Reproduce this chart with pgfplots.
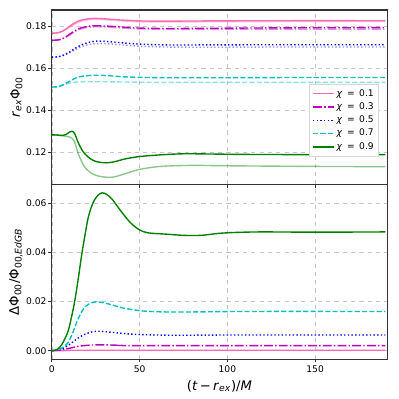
\documentclass[border=0pt]{standalone}
\usepackage{pgfplots}
\pgfplotsset{compat=1.18}
\usepackage{fontspec}
\setmainfont{DejaVu Sans}

\definecolor{cpink}{HTML}{FF69B4}
\definecolor{cmag}{HTML}{BF00BF}
\definecolor{cblue}{HTML}{0000FF}
\definecolor{ccyan}{HTML}{00BFBF}
\definecolor{cgreen}{HTML}{008000}
\definecolor{spine}{HTML}{333333}
\definecolor{legbox}{HTML}{D9D9D9}

\pgfplotsset{
  panel/.style={
    scale only axis, width=242pt, height=126pt,
    xmin=0, xmax=191,
    xtick={0,50,100,150},
    tick pos=left, tick align=outside,
    major tick length=2.4pt,
    every tick/.style={spine, line width=0.6pt},
    axis line style={spine, line width=0.8pt},
    grid=major,
    grid style={dashed, gray!45, line width=0.4pt},
    ticklabel style={font=\fontsize{6.6}{7.5}\selectfont},
    yticklabel style={inner sep=1.3pt},
    xticklabel style={inner sep=2pt},
    /pgf/number format/assume math mode=true,
    scaled y ticks=false,
    yticklabel style={/pgf/number format/fixed, /pgf/number format/fixed zerofill, /pgf/number format/precision=2},
    label style={font=\fontsize{9.5}{11}\selectfont},
    ylabel style={inner sep=1pt},
  },
  dk/.style={line width=1.0pt, smooth, tension=0.5, no marks},
  lt/.style={line width=1.0pt, smooth, tension=0.5, no marks, opacity=0.45},
  s1/.style={solid},
  s3/.style={dash pattern=on 6.4pt off 1.6pt on 1pt off 1.6pt},
  s5/.style={dash pattern=on 1pt off 1.65pt},
  s7/.style={dash pattern=on 3.7pt off 1.6pt},
}

\begin{document}
\begin{tikzpicture}
\path[use as bounding box] (-37.4pt,-28.8pt) rectangle (249.9pt,259.2pt);

\begin{axis}[panel, name=top, at={(0,126pt)}, anchor=south west,
  ymin=0.1048, ymax=0.1877,
  ytick={0.12,0.14,0.16,0.18},
  xticklabels={},
  ylabel={\textit{r}\textsubscript{\textit{ex}}Φ\textsubscript{00}},
  legend style={at={(0.976,0.16)}, anchor=south east, fill=white,
    font=\fontsize{6.6}{7.5}\selectfont, row sep=0pt, inner sep=2pt,
    nodes={inner sep=1.6pt}, draw=legbox},
  legend cell align=left,
  legend image code/.code={\draw[#1] (0pt,0pt) -- (15pt,0pt);},
]
% light companions
\addplot[lt, s1, color=cpink, forget plot] coordinates {(0,0.1767)(3,0.1768)(6,0.1775)(9,0.1789)(12,0.1805)(15,0.1818)(19,0.1828)(24,0.1832)(30,0.1831)(40,0.1825)(50,0.1821)(65,0.1820)(90,0.1821)(130,0.1822)(190,0.1822)};
\addplot[lt, s3, color=cmag, forget plot] coordinates {(0,0.1733)(3,0.1734)(6,0.1739)(9,0.1752)(12,0.1768)(15,0.1782)(19,0.1792)(24,0.1797)(30,0.1796)(40,0.1791)(50,0.1787)(65,0.1785)(90,0.1785)(130,0.1786)(190,0.1786)};
\addplot[lt, s5, color=cblue, forget plot] coordinates {(0,0.1653)(3,0.1654)(6,0.1659)(9,0.1669)(12,0.1682)(15,0.1696)(19,0.1709)(24,0.1716)(30,0.1717)(40,0.1711)(50,0.1705)(65,0.1701)(90,0.1700)(130,0.1701)(190,0.1701)};
\addplot[lt, s7, color=ccyan, forget plot] coordinates {(0,0.1511)(3,0.1512)(6,0.1518)(9,0.1527)(12,0.1533)(15,0.1535)(19,0.1536)(24,0.1536)(30,0.1536)(40,0.1535)(50,0.1534)(65,0.1533)(90,0.1533)(130,0.1533)(190,0.1533)};
\addplot[lt, s1, color=cgreen, forget plot] coordinates {(0,0.1284)(3,0.1283)(6,0.1280)(8,0.1277)(10,0.1274)(11.5,0.1268)(13,0.1250)(15,0.1196)(17,0.1158)(19,0.1128)(22,0.1105)(25,0.1092)(28,0.1086)(32,0.1082)(36,0.1085)(42,0.1100)(50,0.1120)(62,0.1134)(80,0.1139)(100,0.1137)(150,0.1134)(190,0.1133)};
% main curves
\addplot[dk, s1, color=cpink, forget plot] coordinates {(0,0.1767)(3,0.1768)(6,0.1776)(9,0.1792)(12,0.1810)(15,0.1824)(19,0.1833)(24,0.1837)(30,0.1835)(40,0.1829)(50,0.1825)(65,0.1824)(90,0.1825)(130,0.1826)(190,0.1826)};
\addplot[dk, s3, color=cmag, forget plot] coordinates {(0,0.1733)(3,0.1734)(6,0.1740)(9,0.1755)(12,0.1772)(15,0.1787)(19,0.1797)(24,0.1802)(30,0.1801)(40,0.1796)(50,0.1791)(65,0.1789)(90,0.1790)(130,0.1792)(190,0.1793)};
\addplot[dk, s5, color=cblue, forget plot] coordinates {(0,0.1653)(3,0.1654)(6,0.1660)(9,0.1672)(12,0.1688)(15,0.1703)(19,0.1718)(24,0.1728)(30,0.1728)(40,0.1721)(50,0.1715)(65,0.1711)(90,0.1711)(130,0.1712)(190,0.1712)};
\addplot[dk, s7, color=ccyan, forget plot] coordinates {(0,0.1511)(3,0.1512)(6,0.1520)(9,0.1533)(12,0.1547)(15,0.1558)(19,0.1564)(24,0.1567)(30,0.1566)(40,0.1560)(50,0.1557)(65,0.1555)(90,0.1555)(130,0.1556)(190,0.1556)};
\addplot[dk, s1, color=cgreen, forget plot] coordinates {(0,0.1284)(3,0.1283)(6,0.1281)(8,0.1285)(10,0.1297)(11.5,0.1301)(13,0.1290)(15,0.1248)(17,0.1215)(19,0.1192)(22,0.1170)(25,0.1158)(28,0.1153)(31,0.1151)(35,0.1155)(42,0.1170)(50,0.1181)(62,0.1189)(75,0.1194)(90,0.1193)(110,0.1191)(150,0.1190)(190,0.1190)};
\addlegendimage{draw=cpink, line width=1pt, solid}
\addlegendentry{\textit{χ}\enspace=\enspace0.1}
\addlegendimage{draw=cmag, line width=1pt, s3}
\addlegendentry{\textit{χ}\enspace=\enspace0.3}
\addlegendimage{draw=cblue, line width=1pt, s5}
\addlegendentry{\textit{χ}\enspace=\enspace0.5}
\addlegendimage{draw=ccyan, line width=1pt, s7}
\addlegendentry{\textit{χ}\enspace=\enspace0.7}
\addlegendimage{draw=cgreen, line width=1pt, solid}
\addlegendentry{\textit{χ}\enspace=\enspace0.9}
\end{axis}

\begin{axis}[panel, name=bot, at={(0,0)}, anchor=south west,
  ymin=-0.0034, ymax=0.0677,
  ytick={0,0.02,0.04,0.06},
  xticklabel style={/pgf/number format/fixed, /pgf/number format/precision=0},
  xlabel={(\textit{t}\,−\,\textit{r}\textsubscript{\textit{ex}})/\textit{M}},
  ylabel={ΔΦ\textsubscript{00}/Φ\textsubscript{00,\textit{EdGB}}},
]
\addplot[dk, s1, color=cpink] coordinates {(0,0)(10,0.0001)(20,0.0002)(190,0.0002)};
\addplot[dk, s3, color=cmag] coordinates {(0,0)(5,0.0003)(10,0.0010)(15,0.0018)(20,0.0022)(25,0.0024)(30,0.0024)(40,0.0022)(50,0.0021)(190,0.0021)};
\addplot[dk, s5, color=cblue] coordinates {(0,0)(5,0.0006)(10,0.0025)(15,0.0052)(20,0.0071)(25,0.0079)(30,0.0078)(40,0.0071)(50,0.0066)(70,0.0063)(100,0.0064)(190,0.0064)};
\addplot[dk, s7, color=ccyan] coordinates {(0,0)(5,0.0008)(9,0.0030)(12,0.0075)(15,0.0130)(18,0.0170)(21,0.0190)(25,0.0199)(30,0.0195)(35,0.0185)(42,0.0172)(52,0.0162)(65,0.0158)(80,0.0158)(110,0.0160)(190,0.0160)};
\addplot[dk, s1, color=cgreen] coordinates {(0,0)(3,0.0005)(5.5,0.0023)(7.5,0.0050)(9.3,0.0080)(11,0.0130)(13,0.0200)(15,0.0290)(17,0.0390)(19,0.0475)(20.6,0.0538)(22.5,0.0585)(24.4,0.0615)(26.5,0.0635)(28.6,0.0643)(31,0.0638)(34,0.0620)(37,0.0592)(40,0.0563)(45,0.0520)(50,0.0492)(55,0.0480)(65,0.0475)(75,0.0470)(85,0.0470)(95,0.0478)(105,0.0482)(120,0.0484)(150,0.0483)(190,0.0484)};
\end{axis}
\end{tikzpicture}
\end{document}
